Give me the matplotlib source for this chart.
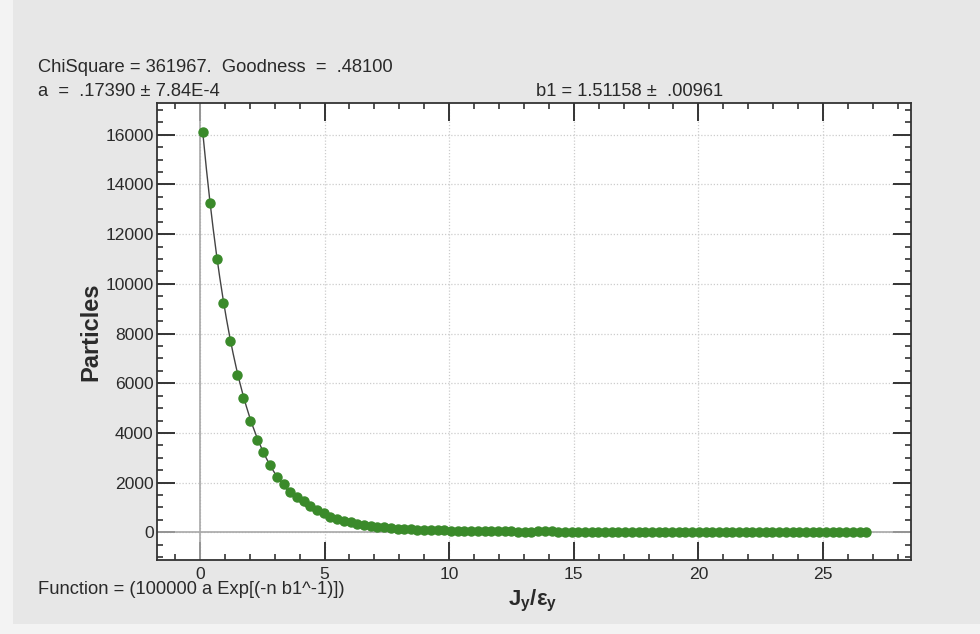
import numpy as np
import matplotlib
matplotlib.use("Agg")
import matplotlib.pyplot as plt
from matplotlib.ticker import MultipleLocator
from matplotlib.patches import Rectangle

plt.rcParams['font.family'] = ['Liberation Sans', 'DejaVu Sans']
plt.rcParams['mathtext.fontset'] = 'custom'
plt.rcParams['mathtext.rm'] = 'Liberation Sans'
plt.rcParams['mathtext.it'] = 'Liberation Sans:italic'
plt.rcParams['mathtext.bf'] = 'Liberation Sans:bold'

# ---- data ----
j_over_eps = [0.13, 0.40, 0.67, 0.94, 1.21, 1.48, 1.75, 2.02, 2.28, 2.55,
              2.82, 3.09, 3.36, 3.63, 3.90, 4.16, 4.43, 4.70, 4.97, 5.24,
              5.51, 5.78, 6.05, 6.31, 6.58, 6.85, 7.12, 7.39, 7.66, 7.93,
              8.20, 8.46, 8.73, 9.00, 9.27, 9.54, 9.81, 10.08, 10.35, 10.61,
              10.88, 11.15, 11.42, 11.69, 11.96, 12.23, 12.50, 12.76, 13.03, 13.30,
              13.57, 13.84, 14.11, 14.38, 14.64, 14.91, 15.18, 15.45, 15.72, 15.99,
              16.26, 16.53, 16.79, 17.06, 17.33, 17.60, 17.87, 18.14, 18.41, 18.68,
              18.94, 19.21, 19.48, 19.75, 20.02, 20.29, 20.56, 20.82, 21.09, 21.36,
              21.63, 21.90, 22.17, 22.44, 22.71, 22.97, 23.24, 23.51, 23.78, 24.05,
              24.32, 24.59, 24.85, 25.12, 25.39, 25.66, 25.93, 26.20, 26.47, 26.74]
particles = [16110, 13250, 11010, 9240, 7720, 6340, 5390, 4460, 3730, 3230,
             2720, 2240, 1950, 1630, 1420, 1250, 1070, 900, 765, 630,
             537, 470, 403, 350, 295, 255, 215, 205, 175, 150,
             135, 120, 110, 100, 95, 85, 80, 70, 65, 55,
             60, 50, 45, 50, 40, 40, 35, 30, 20, 25,
             40, 55, 50, 30, 15, 10, 5, 10, 5, 0,
             5, 0, 5, 0, 0, 5, 0, 0, 5, 0,
             0, 0, 5, 0, 0, 0, 0, 5, 0, 0,
             0, 0, 0, 0, 5, 0, 0, 0, 0, 0,
             0, 0, 0, 0, 0, 0, 0, 0, 0, 0]

# fit parameters shown on the chart
fit_a = 0.17390
fit_b1 = 1.51158

header1 = "ChiSquare = 361967.  Goodness  =  .48100"
header2 = "a  =  .17390 \u00b1 7.84E-4"
header3 = "b1 = 1.51158 \u00b1  .00961"
footer = "Function = (100000 a Exp[(-n b1^-1)])"

W, H = 980, 634
TXT = '#2a2a2a'
fig = plt.figure(figsize=(W / 100, H / 100), dpi=100, facecolor='#e7e7e7')
fig.patches.append(Rectangle((0, 0), 13 / W, 1, transform=fig.transFigure,
                             facecolor='#f3f3f3', edgecolor='none', zorder=-10))
fig.patches.append(Rectangle((0, 0), 1, 10 / H, transform=fig.transFigure,
                             facecolor='#f3f3f3', edgecolor='none', zorder=-10))

L, R, T, B = 157, 911, 103, 560
ax = fig.add_axes([L / W, 1 - B / H, (R - L) / W, (B - T) / H])
ax.set_facecolor('white')

xs = np.array(j_over_eps)
ys = np.array(particles)

# fit curve
xf = np.linspace(xs[0], xs[-1], 400)
yf = 100000 * fit_a * np.exp(-xf / fit_b1)

ax.axhline(0, color='#a8a8a8', lw=1.2, zorder=1)
ax.axvline(0, color='#a8a8a8', lw=1.2, zorder=1)
ax.plot(xf, yf, color='#444444', lw=1.0, zorder=2)
ax.plot(xs, ys, 'o', color='#3a8a2a', markeredgecolor='#3a8a2a', markersize=6.5, zorder=3)

ax.set_xlim(-1.72, 28.53)
ax.set_ylim(-1115, 17280)
ax.xaxis.set_major_locator(MultipleLocator(5))
ax.xaxis.set_minor_locator(MultipleLocator(1))
ax.yaxis.set_major_locator(MultipleLocator(2000))
ax.yaxis.set_minor_locator(MultipleLocator(500))

ax.grid(True, which='major', color='#cccccc', linestyle=(0, (1, 1.5)), lw=0.9, zorder=0)
ax.set_axisbelow(True)

for s in ax.spines.values():
    s.set_color('#333333')
    s.set_linewidth(1.3)

ax.tick_params(which='both', direction='in', top=True, right=True,
               colors='#333333', labelcolor=TXT, labelsize=12.6)
ax.tick_params(which='major', length=13, width=1.4)
ax.tick_params(which='minor', length=4.5, width=1.2)
ax.tick_params(axis='y', which='major', pad=2.5)
ax.tick_params(axis='x', which='major', pad=5)

ax.set_ylabel('Particles', fontsize=17, fontweight='bold', color=TXT)
ax.yaxis.set_label_coords(-0.0725, 0.5)
fig.text(533 / W, 1 - 601 / H, '$\\mathbf{J_y/\u03b5_y}$',
         fontsize=16, ha='center', va='center', color=TXT)

fig.text(38 / W, 1 - 67 / H, header1, fontsize=13.2, ha='left', va='center', color=TXT)
fig.text(38 / W, 1 - 91 / H, header2, fontsize=13.2, ha='left', va='center', color=TXT)
fig.text(536 / W, 1 - 91 / H, header3, fontsize=13.2, ha='left', va='center', color=TXT)
fig.text(38 / W, 1 - 590 / H, footer, fontsize=13.2, ha='left', va='center', color=TXT)

fig.savefig('out.png', dpi=100, facecolor=fig.get_facecolor())
